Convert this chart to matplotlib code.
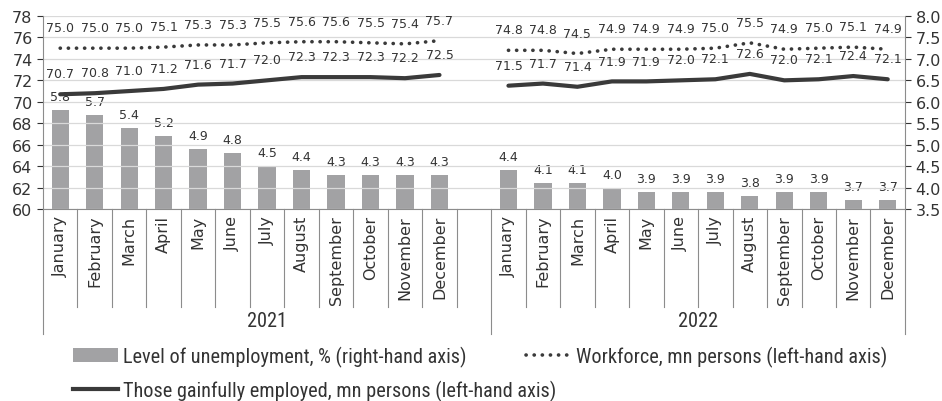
import numpy as np
import matplotlib.pyplot as plt
import matplotlib.transforms as mtransforms
from matplotlib.lines import Line2D
from matplotlib.patches import Patch
from matplotlib import font_manager

months = ['January', 'February', 'March', 'April', 'May', 'June', 'July',
          'August', 'September', 'October', 'November', 'December']
years = ['2021', '2022']

# workforce, mn persons (left axis)
workforce_2021 = [75.0, 75.0, 75.0, 75.1, 75.3, 75.3, 75.5, 75.6, 75.6, 75.5, 75.4, 75.7]
workforce_2022 = [74.8, 74.8, 74.5, 74.9, 74.9, 74.9, 75.0, 75.5, 74.9, 75.0, 75.1, 74.9]
# gainfully employed, mn persons (left axis)
employed_2021 = [70.7, 70.8, 71.0, 71.2, 71.6, 71.7, 72.0, 72.3, 72.3, 72.3, 72.2, 72.5]
employed_2022 = [71.5, 71.7, 71.4, 71.9, 71.9, 72.0, 72.1, 72.6, 72.0, 72.1, 72.4, 72.1]
# unemployment level, % (right axis)
unemp_2021 = [5.8, 5.7, 5.4, 5.2, 4.9, 4.8, 4.5, 4.4, 4.3, 4.3, 4.3, 4.3]
unemp_2022 = [4.4, 4.1, 4.1, 4.0, 3.9, 3.9, 3.9, 3.8, 3.9, 3.9, 3.7, 3.7]

# narrow face for legend / year labels if one is around
names = {f.name for f in font_manager.fontManager.ttflist}
narrow_prop = dict(family='DejaVu Sans', stretch='condensed', size=12.3)
for cand in ('Liberation Sans Narrow', 'Roboto Condensed', 'Open Sans Condensed'):
    if cand in names:
        narrow_prop = dict(family=cand, size=14.6)
        break

txt = '#333333'
line_c = '#3a3a3a'
bar_c = '#a2a2a4'
dots = (0, (0.05, 2.2))

# 12 months, one empty slot, 12 months
x21 = np.arange(12)
x22 = np.arange(13, 25)

fig = plt.figure(figsize=(9.42, 4.02), dpi=100)
ax = fig.add_axes([0.0456, 0.4776, 0.9151, 0.4801])
ax2 = ax.twinx()

ax.set_xlim(-0.5, 24.5)
ax.set_ylim(60, 78)
ax2.set_ylim(3.5, 8.0)
ax.set_yticks(np.arange(60, 79, 2))
ax2.set_yticks(np.arange(3.5, 8.01, 0.5))
ax2.set_yticklabels(['%.1f' % v for v in np.arange(3.5, 8.01, 0.5)])
ax.grid(axis='y', color='#d9d9d9', linewidth=0.9)
ax.set_axisbelow(True)
ax.set_xticks([])

for a in (ax, ax2):
    a.spines['top'].set_visible(False)
    a.tick_params(axis='y', labelsize=11.5, colors=txt, length=4, width=0.8)
    for s in a.spines.values():
        s.set_color('#8c8c8c')
ax2.spines['left'].set_visible(False)
ax.spines['right'].set_visible(False)
ax2.spines['bottom'].set_visible(False)

# bars on the right axis, drawn behind the lines
ax.set_zorder(ax2.get_zorder() + 1)
ax.patch.set_visible(False)
for xs, vals in ((x21, unemp_2021), (x22, unemp_2022)):
    ax2.bar(xs, np.array(vals) - 3.5, bottom=3.5, width=0.5, color=bar_c)
    for xi, v in zip(xs, vals):
        ax2.annotate('%.1f' % v, (xi, v), xytext=(0, 5), textcoords='offset points',
                     ha='center', va='bottom', fontsize=9, color=txt)

for xs, wf, em in ((x21, workforce_2021, employed_2021), (x22, workforce_2022, employed_2022)):
    ax.plot(xs, wf, color=line_c, linewidth=2.6, linestyle=dots, dash_capstyle='round')
    ax.plot(xs, em, color=line_c, linewidth=3, solid_capstyle='round')
    for xi, v in zip(xs, wf):
        ax.annotate('%.1f' % v, (xi, v), xytext=(0, 10), textcoords='offset points',
                    ha='center', va='bottom', fontsize=9, color=txt)
    for xi, v in zip(xs, em):
        ax.annotate('%.1f' % v, (xi, v), xytext=(0, 10), textcoords='offset points',
                    ha='center', va='bottom', fontsize=9, color=txt)

# category axis below the plot
trans = mtransforms.blended_transform_factory(ax.transData, ax.transAxes)
for xs in (x21, x22):
    for xi, m in zip(xs, months):
        ax.text(xi, -0.03, m, transform=trans, rotation=90, ha='center', va='top',
                fontsize=11.5, color=txt)
for b in list(np.arange(-0.5, 12.5, 1.0)) + list(np.arange(12.5, 25.0, 1.0)):
    long = b in (-0.5, 12.5, 24.5)
    ax.plot([b, b], [0, -0.648 if long else -0.51], transform=trans, color='#8c8c8c',
            linewidth=0.8, clip_on=False)
for xc, y in ((6.0, years[0]), (18.5, years[1])):
    ax.text(xc, -0.58, y, transform=trans, ha='center', va='center',
            color=txt, **narrow_prop)

# legend: two rows, laid out separately so the second entry of row 1 sits where it should
h_bar = Patch(facecolor=bar_c, edgecolor='none')
h_wf = Line2D([], [], color=line_c, linewidth=2.6, linestyle=dots, dash_capstyle='round')
h_em = Line2D([], [], color=line_c, linewidth=3)
leg_kw = dict(frameon=False, prop=narrow_prop, labelcolor=txt, handlelength=2.25,
              handletextpad=0.25, borderaxespad=0, borderpad=0)
leg1 = fig.legend([h_bar, h_wf], ['Level of unemployment, % (right-hand axis)',
                                  'Workforce, mn persons (left-hand axis)'],
                  loc='center left', bbox_to_anchor=(0.077, 1 - 357 / 402), ncol=2,
                  columnspacing=2.9, **leg_kw)
fig.legend([h_em], ['Those gainfully employed, mn persons (left-hand axis)'],
           loc='center left', bbox_to_anchor=(0.077, 1 - 391 / 402), **leg_kw)

fig.savefig('out.png', dpi=100)
